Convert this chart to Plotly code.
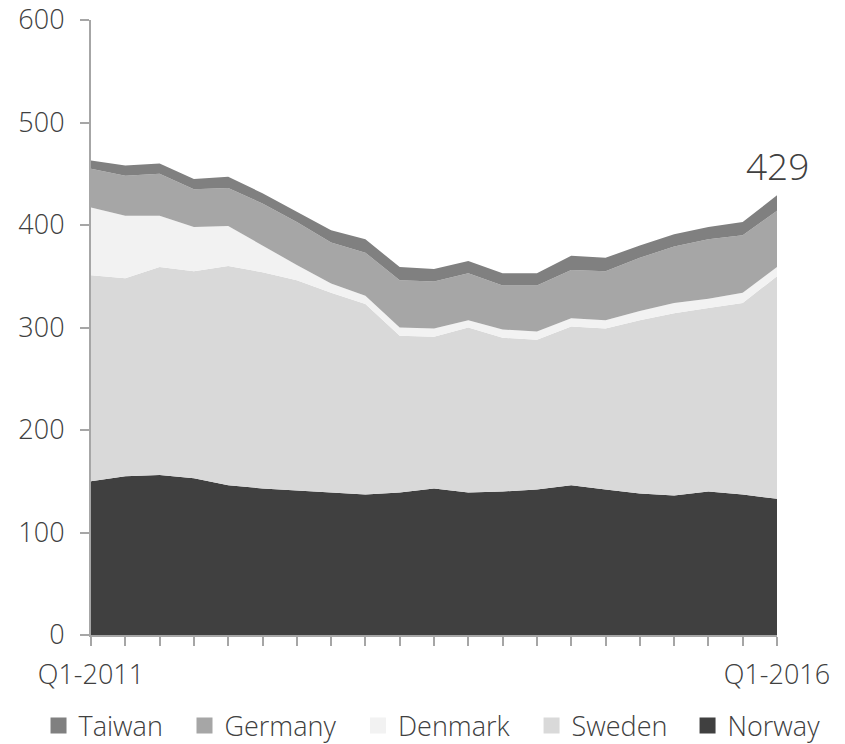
import plotly.graph_objects as go

quarters = ["Q1-2011", "Q2-2011", "Q3-2011", "Q4-2011",
            "Q1-2012", "Q2-2012", "Q3-2012", "Q4-2012",
            "Q1-2013", "Q2-2013", "Q3-2013", "Q4-2013",
            "Q1-2014", "Q2-2014", "Q3-2014", "Q4-2014",
            "Q1-2015", "Q2-2015", "Q3-2015", "Q4-2015",
            "Q1-2016"]
norway = [150, 155, 156, 153, 146, 143, 141, 139, 137, 139, 143, 139, 140, 142, 146, 142, 138, 136, 140, 137, 133]
sweden = [201, 193, 203, 202, 214, 211, 205, 195, 186, 153, 148, 161, 150, 146, 155, 157, 169, 178, 179, 187, 217]
denmark = [66, 61, 50, 43, 39, 26, 15, 9, 8, 8, 8, 7, 8, 8, 8, 8, 9, 10, 9, 10, 9]
germany = [38, 39, 41, 37, 37, 41, 42, 40, 42, 46, 46, 46, 43, 45, 47, 48, 52, 55, 58, 56, 55]
taiwan = [8, 10, 10, 10, 11, 10, 10, 12, 13, 13, 12, 12, 12, 12, 14, 13, 12, 12, 12, 13, 15]

series = [("Norway", norway, "#404040"),
          ("Sweden", sweden, "#d9d9d9"),
          ("Denmark", denmark, "#f2f2f2"),
          ("Germany", germany, "#a6a6a6"),
          ("Taiwan", taiwan, "#808080")]

# legend entry positions (paper x of each legend box), Taiwan ... Norway
legend_x = [-0.0765, 0.1363, 0.3892, 0.6422, 0.8696]

xs = list(range(len(quarters)))
total_last = sum(s[1][-1] for s in series)

FONT = "Open Sans"
TXT = "#404040"

fig = go.Figure()
for name, vals, col in series:
    fig.add_trace(go.Scatter(
        x=xs, y=vals, name=name, stackgroup="one", mode="lines",
        line=dict(width=0, color=col), fillcolor=col, showlegend=False,
        hoverinfo="skip"))

legend_layout = {}
for i, (name, vals, col) in enumerate(reversed(series)):
    key = "legend" if i == 0 else f"legend{i + 1}"
    fig.add_trace(go.Scatter(
        x=[None], y=[None], name=name, mode="markers",
        marker=dict(symbol="square", size=17, color=col),
        showlegend=True, legend=key))
    legend_layout[key] = dict(
        orientation="h", x=legend_x[i], xanchor="left", y=-0.108, yanchor="top",
        font=dict(family=FONT, size=27, color=TXT, weight=300),
        bgcolor="rgba(0,0,0,0)", itemsizing="trace")

fig.add_annotation(x=xs[-1], y=total_last, text=str(total_last),
                   showarrow=False, yanchor="bottom", xanchor="center",
                   yshift=2, xshift=0,
                   font=dict(family=FONT, size=37, color=TXT, weight=300))

ticktext = [quarters[0]] + [""] * (len(quarters) - 2) + [quarters[-1]]

fig.update_layout(
    width=845, height=744,
    margin=dict(l=91, r=68, t=20, b=109, autoexpand=False),
    paper_bgcolor="white", plot_bgcolor="white",
    font=dict(family=FONT, size=27, color=TXT, weight=300),
    showlegend=True,
    xaxis=dict(range=[0, len(quarters) - 1], tickmode="array", tickvals=xs,
               ticktext=ticktext, showgrid=False, zeroline=False,
               showline=True, linecolor="#a6a6a6", linewidth=2,
               ticks="outside", ticklen=9, tickcolor="#a6a6a6", tickwidth=2,
               ticklabelstandoff=6, tickangle=0),
    yaxis=dict(range=[0, 600], tickvals=[0, 100, 200, 300, 400, 500, 600],
               showgrid=False, zeroline=False,
               showline=True, linecolor="#a6a6a6", linewidth=2,
               ticks="outside", ticklen=9, tickcolor="#a6a6a6", tickwidth=2,
               ticklabelstandoff=10),
    **legend_layout,
)

fig.write_html("out.html")
